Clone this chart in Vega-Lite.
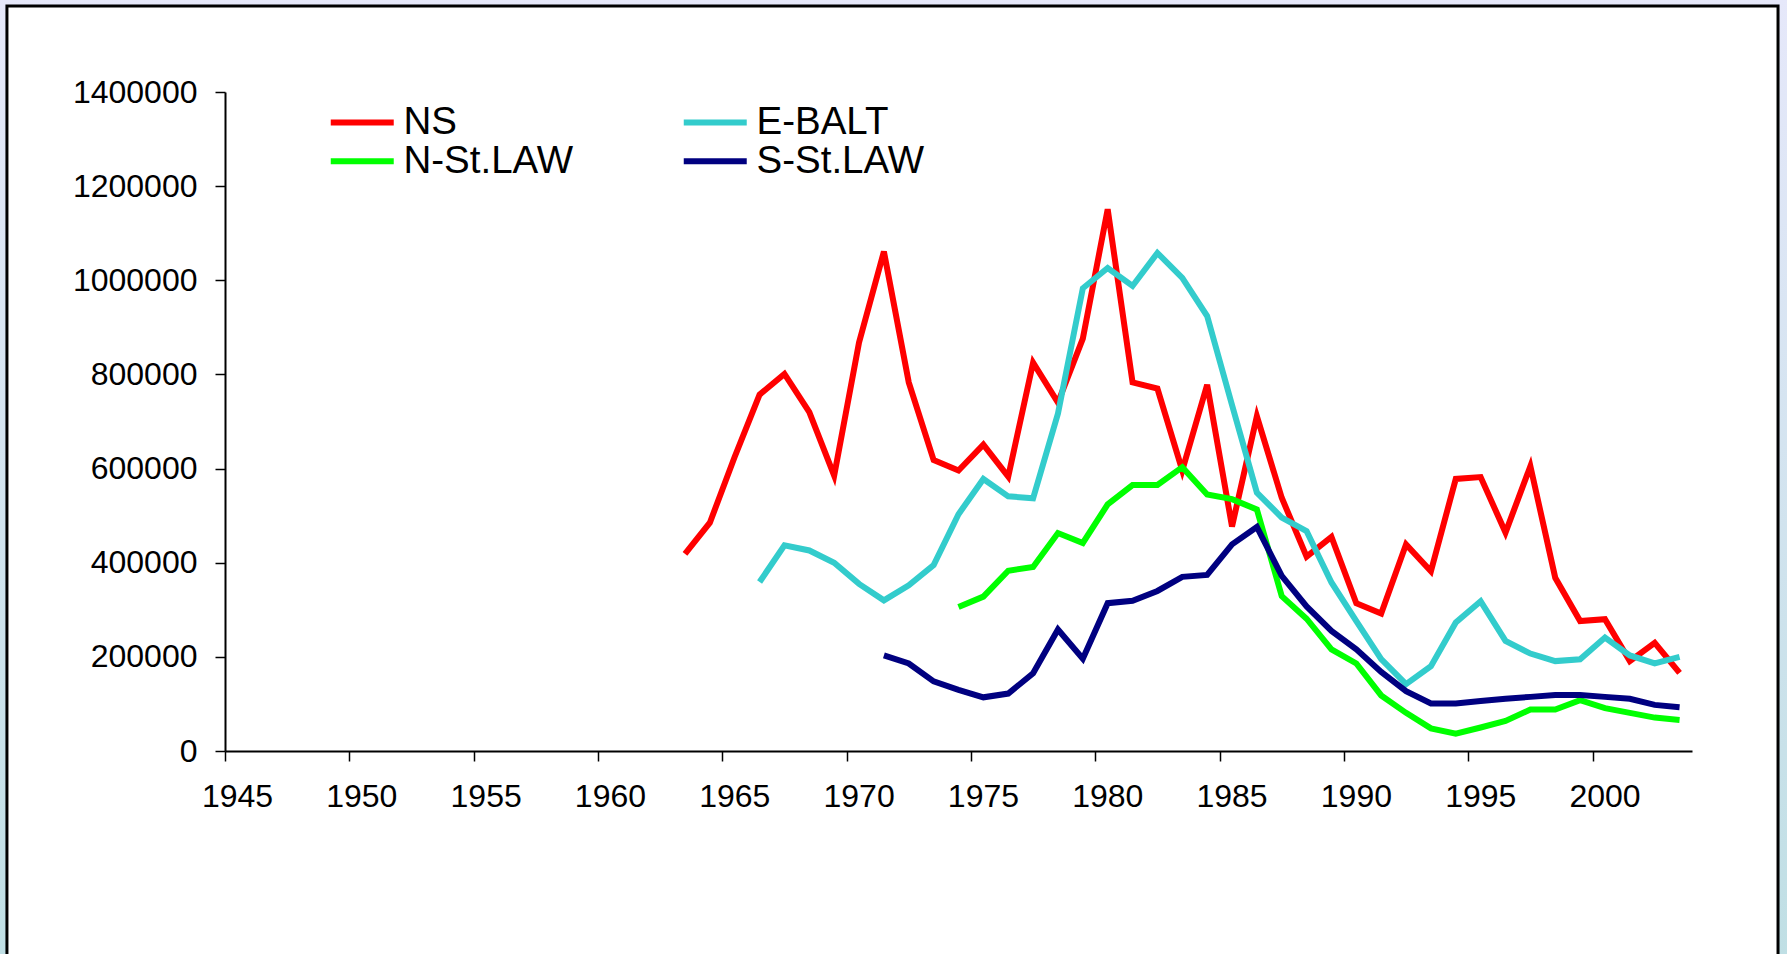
{
  "$schema": "https://vega.github.io/schema/vega-lite/v6.json",
  "width": 1467,
  "height": 659,
  "autosize": {"type": "none"},
  "padding": {"left": 225, "top": 92, "right": 95, "bottom": 203},
  "background": "#FFFFFF",
  "config": {
    "view": {"stroke": null},
    "font": "Liberation Sans",
    "axis": {"labelFont": "Liberation Sans", "labelColor": "#000000", "domainColor": "#000000", "tickColor": "#000000", "grid": false}
  },
  "layer": [
    {
      "data": {"values": [
        {"year": 1963, "region": "NS", "value": 419000},
        {"year": 1964, "region": "NS", "value": 485000},
        {"year": 1965, "region": "NS", "value": 625000},
        {"year": 1966, "region": "NS", "value": 757000},
        {"year": 1967, "region": "NS", "value": 801000},
        {"year": 1968, "region": "NS", "value": 720000},
        {"year": 1969, "region": "NS", "value": 585000},
        {"year": 1970, "region": "NS", "value": 868000},
        {"year": 1971, "region": "NS", "value": 1061000},
        {"year": 1972, "region": "NS", "value": 783000},
        {"year": 1973, "region": "NS", "value": 618000},
        {"year": 1974, "region": "NS", "value": 596000},
        {"year": 1975, "region": "NS", "value": 651000},
        {"year": 1976, "region": "NS", "value": 583000},
        {"year": 1977, "region": "NS", "value": 825000},
        {"year": 1978, "region": "NS", "value": 740000},
        {"year": 1979, "region": "NS", "value": 876000},
        {"year": 1980, "region": "NS", "value": 1151000},
        {"year": 1981, "region": "NS", "value": 783000},
        {"year": 1982, "region": "NS", "value": 770000},
        {"year": 1983, "region": "NS", "value": 596000},
        {"year": 1984, "region": "NS", "value": 778000},
        {"year": 1985, "region": "NS", "value": 477000},
        {"year": 1986, "region": "NS", "value": 711000},
        {"year": 1987, "region": "NS", "value": 538000},
        {"year": 1988, "region": "NS", "value": 413000},
        {"year": 1989, "region": "NS", "value": 455000},
        {"year": 1990, "region": "NS", "value": 314000},
        {"year": 1991, "region": "NS", "value": 292000},
        {"year": 1992, "region": "NS", "value": 439000},
        {"year": 1993, "region": "NS", "value": 382000},
        {"year": 1994, "region": "NS", "value": 578000},
        {"year": 1995, "region": "NS", "value": 582000},
        {"year": 1996, "region": "NS", "value": 464000},
        {"year": 1997, "region": "NS", "value": 605000},
        {"year": 1998, "region": "NS", "value": 368000},
        {"year": 1999, "region": "NS", "value": 276000},
        {"year": 2000, "region": "NS", "value": 280000},
        {"year": 2001, "region": "NS", "value": 191000},
        {"year": 2002, "region": "NS", "value": 230000},
        {"year": 2003, "region": "NS", "value": 166000},
        {"year": 1966, "region": "E-BALT", "value": 359000},
        {"year": 1967, "region": "E-BALT", "value": 437000},
        {"year": 1968, "region": "E-BALT", "value": 426000},
        {"year": 1969, "region": "E-BALT", "value": 400000},
        {"year": 1970, "region": "E-BALT", "value": 355000},
        {"year": 1971, "region": "E-BALT", "value": 320000},
        {"year": 1972, "region": "E-BALT", "value": 352000},
        {"year": 1973, "region": "E-BALT", "value": 395000},
        {"year": 1974, "region": "E-BALT", "value": 503000},
        {"year": 1975, "region": "E-BALT", "value": 578000},
        {"year": 1976, "region": "E-BALT", "value": 541000},
        {"year": 1977, "region": "E-BALT", "value": 537000},
        {"year": 1978, "region": "E-BALT", "value": 717000},
        {"year": 1979, "region": "E-BALT", "value": 983000},
        {"year": 1980, "region": "E-BALT", "value": 1026000},
        {"year": 1981, "region": "E-BALT", "value": 988000},
        {"year": 1982, "region": "E-BALT", "value": 1058000},
        {"year": 1983, "region": "E-BALT", "value": 1005000},
        {"year": 1984, "region": "E-BALT", "value": 924000},
        {"year": 1985, "region": "E-BALT", "value": 735000},
        {"year": 1986, "region": "E-BALT", "value": 549000},
        {"year": 1987, "region": "E-BALT", "value": 496000},
        {"year": 1988, "region": "E-BALT", "value": 467000},
        {"year": 1989, "region": "E-BALT", "value": 358000},
        {"year": 1990, "region": "E-BALT", "value": 276000},
        {"year": 1991, "region": "E-BALT", "value": 195000},
        {"year": 1992, "region": "E-BALT", "value": 142000},
        {"year": 1993, "region": "E-BALT", "value": 180000},
        {"year": 1994, "region": "E-BALT", "value": 273000},
        {"year": 1995, "region": "E-BALT", "value": 318000},
        {"year": 1996, "region": "E-BALT", "value": 234000},
        {"year": 1997, "region": "E-BALT", "value": 207000},
        {"year": 1998, "region": "E-BALT", "value": 191000},
        {"year": 1999, "region": "E-BALT", "value": 195000},
        {"year": 2000, "region": "E-BALT", "value": 241000},
        {"year": 2001, "region": "E-BALT", "value": 203000},
        {"year": 2002, "region": "E-BALT", "value": 186000},
        {"year": 2003, "region": "E-BALT", "value": 200000},
        {"year": 1974, "region": "N-St.LAW", "value": 306000},
        {"year": 1975, "region": "N-St.LAW", "value": 328000},
        {"year": 1976, "region": "N-St.LAW", "value": 383000},
        {"year": 1977, "region": "N-St.LAW", "value": 391000},
        {"year": 1978, "region": "N-St.LAW", "value": 463000},
        {"year": 1979, "region": "N-St.LAW", "value": 442000},
        {"year": 1980, "region": "N-St.LAW", "value": 524000},
        {"year": 1981, "region": "N-St.LAW", "value": 565000},
        {"year": 1982, "region": "N-St.LAW", "value": 565000},
        {"year": 1983, "region": "N-St.LAW", "value": 603000},
        {"year": 1984, "region": "N-St.LAW", "value": 545000},
        {"year": 1985, "region": "N-St.LAW", "value": 535000},
        {"year": 1986, "region": "N-St.LAW", "value": 513000},
        {"year": 1987, "region": "N-St.LAW", "value": 329000},
        {"year": 1988, "region": "N-St.LAW", "value": 281000},
        {"year": 1989, "region": "N-St.LAW", "value": 216000},
        {"year": 1990, "region": "N-St.LAW", "value": 186000},
        {"year": 1991, "region": "N-St.LAW", "value": 118000},
        {"year": 1992, "region": "N-St.LAW", "value": 81000},
        {"year": 1993, "region": "N-St.LAW", "value": 48000},
        {"year": 1994, "region": "N-St.LAW", "value": 37000},
        {"year": 1995, "region": "N-St.LAW", "value": 50000},
        {"year": 1996, "region": "N-St.LAW", "value": 64000},
        {"year": 1997, "region": "N-St.LAW", "value": 88000},
        {"year": 1998, "region": "N-St.LAW", "value": 88000},
        {"year": 1999, "region": "N-St.LAW", "value": 108000},
        {"year": 2000, "region": "N-St.LAW", "value": 91000},
        {"year": 2001, "region": "N-St.LAW", "value": 81000},
        {"year": 2002, "region": "N-St.LAW", "value": 71000},
        {"year": 2003, "region": "N-St.LAW", "value": 66000},
        {"year": 1971, "region": "S-St.LAW", "value": 203000},
        {"year": 1972, "region": "S-St.LAW", "value": 186000},
        {"year": 1973, "region": "S-St.LAW", "value": 148000},
        {"year": 1974, "region": "S-St.LAW", "value": 130000},
        {"year": 1975, "region": "S-St.LAW", "value": 114000},
        {"year": 1976, "region": "S-St.LAW", "value": 122000},
        {"year": 1977, "region": "S-St.LAW", "value": 165000},
        {"year": 1978, "region": "S-St.LAW", "value": 258000},
        {"year": 1979, "region": "S-St.LAW", "value": 196000},
        {"year": 1980, "region": "S-St.LAW", "value": 314000},
        {"year": 1981, "region": "S-St.LAW", "value": 319000},
        {"year": 1982, "region": "S-St.LAW", "value": 340000},
        {"year": 1983, "region": "S-St.LAW", "value": 370000},
        {"year": 1984, "region": "S-St.LAW", "value": 374000},
        {"year": 1985, "region": "S-St.LAW", "value": 439000},
        {"year": 1986, "region": "S-St.LAW", "value": 476000},
        {"year": 1987, "region": "S-St.LAW", "value": 372000},
        {"year": 1988, "region": "S-St.LAW", "value": 307000},
        {"year": 1989, "region": "S-St.LAW", "value": 255000},
        {"year": 1990, "region": "S-St.LAW", "value": 216000},
        {"year": 1991, "region": "S-St.LAW", "value": 168000},
        {"year": 1992, "region": "S-St.LAW", "value": 127000},
        {"year": 1993, "region": "S-St.LAW", "value": 101000},
        {"year": 1994, "region": "S-St.LAW", "value": 101000},
        {"year": 1995, "region": "S-St.LAW", "value": 106000},
        {"year": 1996, "region": "S-St.LAW", "value": 111000},
        {"year": 1997, "region": "S-St.LAW", "value": 115000},
        {"year": 1998, "region": "S-St.LAW", "value": 119000},
        {"year": 1999, "region": "S-St.LAW", "value": 119000},
        {"year": 2000, "region": "S-St.LAW", "value": 115000},
        {"year": 2001, "region": "S-St.LAW", "value": 111000},
        {"year": 2002, "region": "S-St.LAW", "value": 98000},
        {"year": 2003, "region": "S-St.LAW", "value": 93000}
      ]},
      "mark": {"type": "line", "strokeWidth": 6},
      "encoding": {
        "x": {
          "field": "year", "type": "quantitative", "title": null,
          "scale": {"domain": [1944.5, 2003.5], "nice": false, "zero": false},
          "axis": {
            "zindex": 2,
            "title": null,
            "values": [1944.5, 1949.5, 1954.5, 1959.5, 1964.5, 1969.5, 1974.5, 1979.5, 1984.5, 1989.5, 1994.5, 1999.5],
            "labelExpr": "format(datum.value + 0.5, 'd')",
            "labelOffset": 12,
            "labelFontSize": 32,
            "tickSize": 10,
            "tickWidth": 1.5,
            "domainWidth": 2,
            "labelPadding": 20,
            "labelFlush": false,
            "labelOverlap": false
          }
        },
        "y": {
          "field": "value", "type": "quantitative", "title": null,
          "scale": {"domain": [0, 1400000], "nice": false},
          "axis": {
            "zindex": 2,
            "title": null,
            "values": [0, 200000, 400000, 600000, 800000, 1000000, 1200000, 1400000],
            "format": "d",
            "labelFontSize": 32,
            "tickSize": 10,
            "tickWidth": 1.5,
            "domainWidth": 2,
            "labelPadding": 18,
            "labelOverlap": false
          }
        },
        "color": {
          "field": "region", "type": "nominal",
          "scale": {"domain": ["NS", "N-St.LAW", "E-BALT", "S-St.LAW"], "range": ["#FF0000", "#00FF00", "#33CCCC", "#000080"]},
          "legend": {
            "title": null,
            "orient": "none",
            "legendX": 118,
            "legendY": 11,
            "columns": 2,
            "columnPadding": 97,
            "rowPadding": 0,
            "padding": 0,
            "symbolType": "M-2,0H2",
            "symbolSize": 992,
            "symbolStrokeWidth": 6,
            "labelFontSize": 38.5,
            "labelFont": "Liberation Sans",
            "labelColor": "#000000",
            "labelOffset": 22,
            "labelLimit": 400
          }
        }
      }
    },
    {
      "data": {"values": [{"frame": "outer"}]},
      "mark": {"type": "rect", "filled": false, "strokeWidth": 20, "stroke": {"gradient": "linear", "x1": 0, "y1": 0, "x2": 0, "y2": 1, "stops": [{"offset": 0, "color": "#E6E8FA"}, {"offset": 1, "color": "#BFDFE4"}]}},
      "encoding": {
        "x": {"datum": 1935.37, "type": "quantitative"},
        "x2": {"datum": 2007.37},
        "y": {"datum": 1603900, "type": "quantitative"},
        "y2": {"datum": -473700}
      }
    },
    {
      "data": {"values": [{"frame": "inner"}]},
      "mark": {"type": "rect", "filled": false, "stroke": "#000000", "strokeWidth": 3},
      "encoding": {
        "x": {"datum": 1935.73, "type": "quantitative"},
        "x2": {"datum": 2006.96},
        "y": {"datum": 1582700, "type": "quantitative"},
        "y2": {"datum": -448200}
      }
    }
  ]
}
